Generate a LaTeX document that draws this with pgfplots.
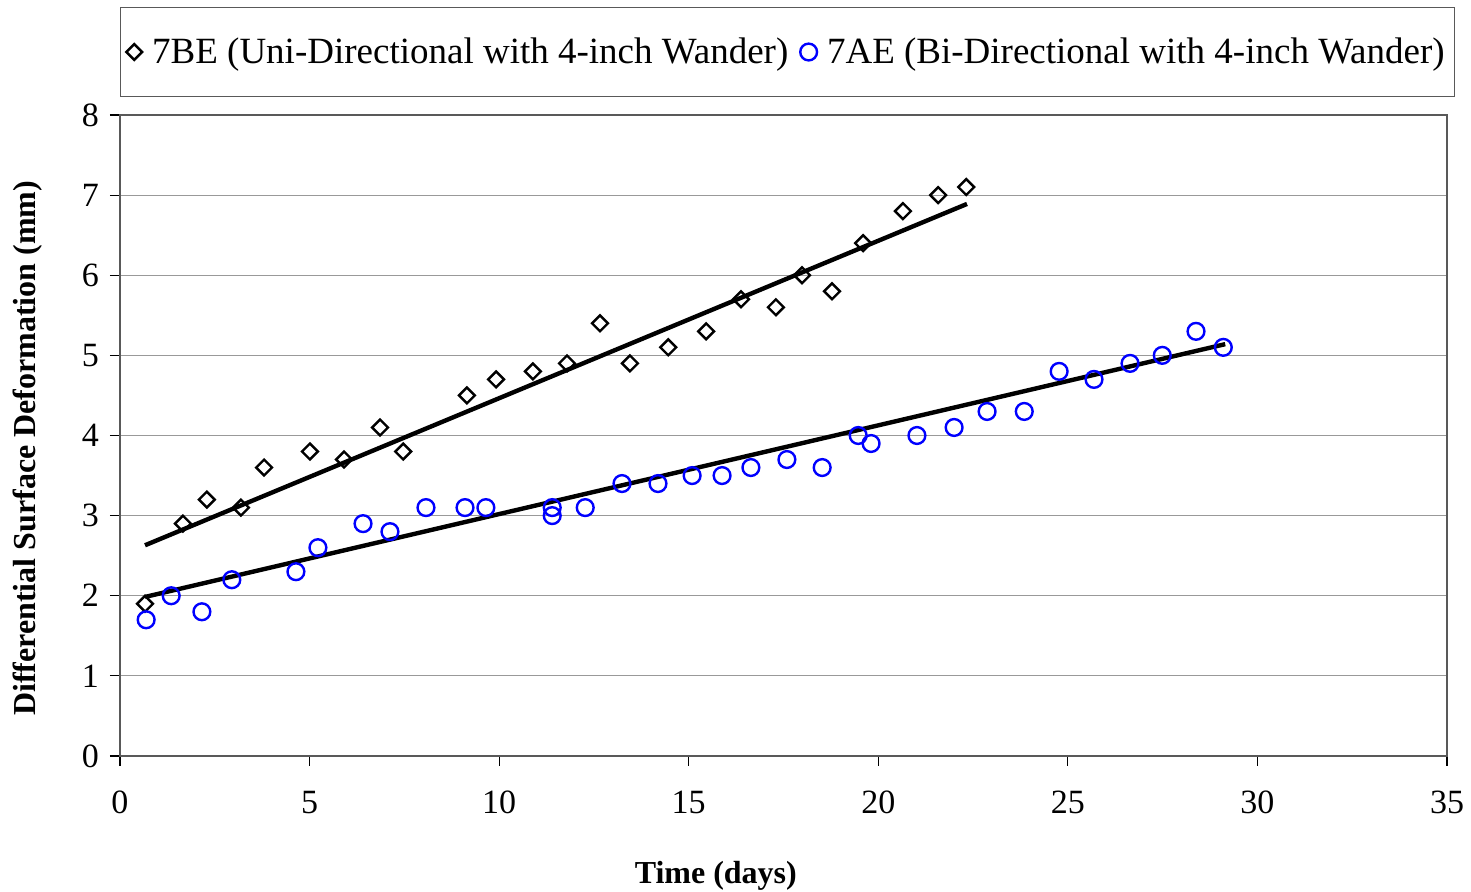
\documentclass[border=0pt]{standalone}
\usepackage{pgfplots}
\pgfplotsset{compat=1.18}
\usepackage{fontspec}
\setmainfont{Liberation Serif}
\begin{document}
\begin{tikzpicture}
\useasboundingbox (-60pt,-68pt) rectangle (675.5pt,378pt);
\begin{axis}[
  at={(0,0)}, anchor=south west,
  scale only axis, width=663.5pt, height=320.5pt,
  xmin=0, xmax=35, ymin=0, ymax=8,
  xtick={0,5,...,35}, ytick={0,1,...,8},
  ymajorgrids, grid style={gray!80, line width=0.6pt},
  axis line style={gray!70!black, line width=0.7pt},
  tick align=outside, major tick length=5pt,
  tick style={black, line width=0.6pt},
  xtick pos=bottom, ytick pos=left,
  /pgf/number format/assume math mode=true,
  tick label style={font=\fontsize{17}{19}\selectfont},
  xticklabel style={yshift=-9pt},
  yticklabel style={xshift=-2pt},
  xlabel={\textbf{Time (days)}},
  ylabel={\textbf{Differential Surface Deformation (mm)}},
  label style={font=\fontsize{16}{18}\selectfont},
  xlabel style={at={(axis description cs:0.449,0)}, anchor=center, yshift=-60pt},
  ylabel style={at={(axis description cs:-0.0693,0.48)}, anchor=center},
  legend columns=2,
  legend style={at={(axis description cs:0.503,1.028)}, anchor=south,
    draw=gray!70!black, line width=0.7pt, font=\fontsize{18.5}{20}\selectfont,
    inner xsep=3pt, inner ysep=13pt,
    /tikz/every odd column/.append style={column sep=3pt},
    /tikz/every even column/.append style={column sep=4pt}},
  legend cell align=left,
]
\addplot[only marks, mark=square, mark options={rotate=45}, mark size=2.8pt, black, line width=1.2pt] coordinates {
(0.66,1.9) (1.66,2.9) (2.29,3.2) (3.19,3.1) (3.80,3.6) (5.01,3.8) (5.91,3.7)
(6.86,4.1) (7.47,3.8) (9.15,4.5) (9.92,4.7) (10.89,4.8) (11.79,4.9) (12.66,5.4)
(13.45,4.9) (14.46,5.1) (15.46,5.3) (16.38,5.7) (17.30,5.6) (17.99,6.0) (18.78,5.8)
(19.60,6.4) (20.65,6.8) (21.58,7.0) (22.32,7.1)};
\addlegendentry{7BE (Uni-Directional with 4-inch Wander)}
\addplot[only marks, mark=o, mark size=4.2pt, blue, line width=1.2pt] coordinates {
(0.69,1.7) (1.35,2.0) (2.16,1.8) (2.95,2.2) (4.64,2.3) (5.22,2.6) (6.41,2.9)
(7.12,2.8) (8.07,3.1) (9.10,3.1) (9.65,3.1) (11.40,3.1) (11.40,3.0) (12.27,3.1)
(13.24,3.4) (14.19,3.4) (15.09,3.5) (15.88,3.5) (16.64,3.6) (17.59,3.7) (18.52,3.6)
(19.47,4.0) (19.81,3.9) (21.02,4.0) (22.00,4.1) (22.87,4.3) (23.85,4.3) (24.77,4.8)
(25.69,4.7) (26.64,4.9) (27.49,5.0) (28.38,5.3) (29.10,5.1)};
\addlegendentry{7AE (Bi-Directional with 4-inch Wander)}
\addplot[black, line width=2.2pt, forget plot] coordinates {(0.66,2.63) (22.34,6.89)};
\addplot[black, line width=2.2pt, forget plot] coordinates {(0.66,1.985) (29.15,5.14)};
\end{axis}
\end{tikzpicture}
\end{document}
